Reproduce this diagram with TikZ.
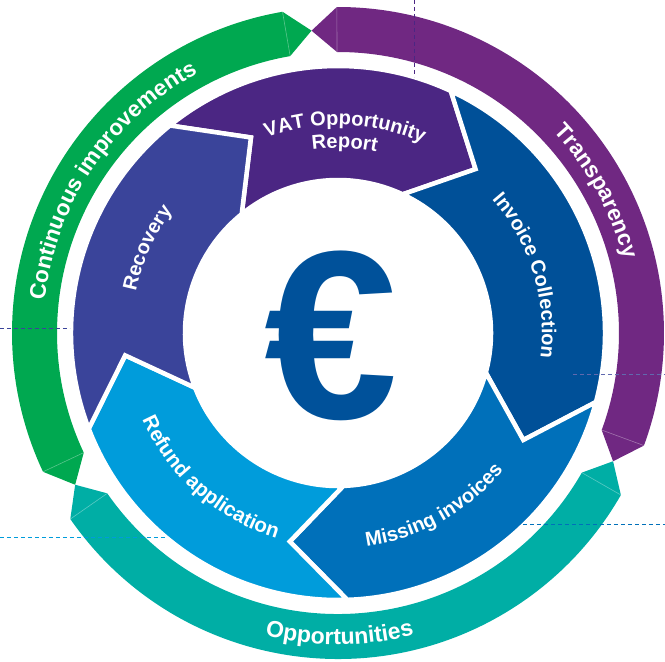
\documentclass[tikz,border=0pt]{standalone}
\usepackage{fontspec}
\setmainfont{Liberation Sans}
\usetikzlibrary{decorations.text}

\definecolor{vatpurple}{RGB}{75,38,131}
\definecolor{invblue}{RGB}{0,80,152}
\definecolor{misblue}{RGB}{0,112,186}
\definecolor{refblue}{RGB}{0,156,219}
\definecolor{recblue}{RGB}{58,68,154}
\definecolor{impgreen}{RGB}{0,168,80}
\definecolor{opteal}{RGB}{0,174,165}
\definecolor{trpurple}{RGB}{112,40,130}
\definecolor{eurblue}{RGB}{0,81,154}

\begin{document}
\begin{tikzpicture}[x=1pt, y=1pt,
    segment/.style={draw=white, line width=4.5pt, line join=miter},
    arclabel/.style 2 args={decorate, decoration={text along path, text align=center,
      text={|\color{white}\fontsize{#1}{#1}\selectfont\bfseries|#2}}},
    leader/.style={dash pattern=on 4pt off 3pt, line width=0.8pt}]
  \useasboundingbox (-338,-329) rectangle (327,333);
  \foreach \a/\b/\c in {129/65/vatpurple, 65/-15/invblue, -15/-88/misblue, -88/-159/refblue, 201/129/recblue}
    \filldraw[segment, fill=\c] (\a:267) arc[start angle=\a, end angle=\b, radius=267]
      -- ({\b-15}:214) -- (\b:153) arc[start angle=\b, end angle=\a, radius=153]
      -- ({\a-15}:214) -- cycle;
  \foreach \s/\e/\c [evaluate=\s as \sa using \s+4.8, evaluate=\e as \eb using \e-4.8]
      in {95/210/impgreen, 210/335/opteal, -25/95/trpurple} {
    \fill[\c] (\sa:326) arc[start angle=\sa, end angle=\eb, radius=326]
      -- (\e:303.5) -- (\eb:281) arc[start angle=\eb, end angle=\sa, radius=281]
      -- (\s:303.5) -- cycle;
    \draw[white, opacity=0.35, line width=0.6pt] (\sa:326) -- (\sa:281) (\eb:326) -- (\eb:281);
  }
  \node[text=eurblue, inner sep=0pt] (euro) at (-6.5,-3) {\fontsize{240}{240}\selectfont\bfseries €};
  \path[arclabel={22.5}{Continuous improvements}] (200:295) arc[start angle=200, end angle=92, radius=295];
  \path[arclabel={22.5}{Transparency}] (78.8:295) arc[start angle=78.8, end angle=-21.2, radius=295];
  \path[arclabel={23}{Opportunities}] (220.3:311.5) arc[start angle=220.3, end angle=320.3, radius=311.5];
  \path[arclabel={20}{VAT Opportunity}] (138:208) arc[start angle=138, end angle=38, radius=208];
  \path[arclabel={20}{Report}] (128:185) arc[start angle=128, end angle=48, radius=185];
  \path[arclabel={20}{Invoice Collection}] (72:204) arc[start angle=72, end angle=-38, radius=204];
  \path[arclabel={20}{Recovery}] (206:206) arc[start angle=206, end angle=106, radius=206];
  \path[arclabel={20}{Missing invoices}] (-116:215) arc[start angle=-116, end angle=-6, radius=215];
  \path[arclabel={20.5}{Refund application}] (173.6:214) arc[start angle=173.6, end angle=283.6, radius=214];
  \coordinate (vattop) at (76,333);
  \coordinate (vatend) at (76,256);
  \coordinate (recleft) at (-338,5);
  \coordinate (recend) at (-268,5);
  \coordinate (refleft) at (-338,-204);
  \coordinate (refend) at (-171,-204);
  \coordinate (invstart) at (235,-41);
  \coordinate (invright) at (327,-41);
  \coordinate (misstart) at (185,-191);
  \coordinate (misright) at (327,-191);
  \draw[leader, vatpurple] (vattop) -- (vatend);
  \draw[leader, recblue] (recleft) -- (recend);
  \draw[leader, refblue] (refleft) -- (refend);
  \draw[leader, recblue!80] (invstart) -- (invright);
  \draw[leader, misblue] (misstart) -- (misright);
\end{tikzpicture}
\end{document}
